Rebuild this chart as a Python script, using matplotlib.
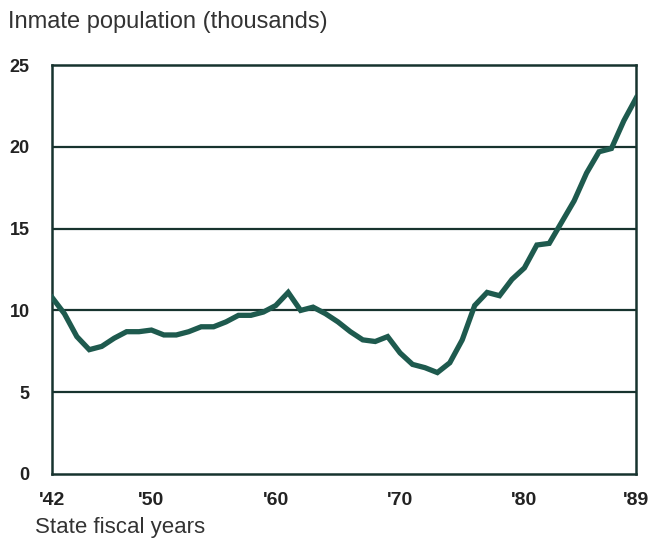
import matplotlib.pyplot as plt

# Inmate population by state fiscal year (thousands)
years = list(range(1942, 1990))
population = [10.8, 9.8, 8.4, 7.6, 7.8, 8.3, 8.7, 8.7, 8.8, 8.5,
              8.5, 8.7, 9.0, 9.0, 9.3, 9.7, 9.7, 9.9, 10.3, 11.1,
              10.0, 10.2, 9.8, 9.3, 8.7, 8.2, 8.1, 8.4, 7.4, 6.7,
              6.5, 6.2, 6.8, 8.2, 10.3, 11.1, 10.9, 11.9, 12.6, 14.0,
              14.1, 15.4, 16.7, 18.4, 19.7, 19.9, 21.6, 23.0]

x_ticks = [1942, 1950, 1960, 1970, 1980, 1989]
x_labels = ["'42", "'50", "'60", "'70", "'80", "'89"]
y_ticks = [0, 5, 10, 15, 20, 25]

plt.rcParams['font.family'] = ['Liberation Sans', 'DejaVu Sans']

line_color = '#1e5a4e'
frame_color = '#17332e'

fig = plt.figure(figsize=(6.58, 5.38), dpi=100)
ax = fig.add_axes([0.079, 0.119, 0.888, 0.760])

ax.plot(years, population, color=line_color, linewidth=3.8,
        solid_joinstyle='miter', zorder=3)

for y in y_ticks[1:-1]:
    ax.axhline(y, color=frame_color, linewidth=1.6, zorder=2)

ax.set_xlim(1942, 1989)
ax.set_ylim(0, 25)
ax.set_xticks(x_ticks)
ax.set_xticklabels(x_labels, fontsize=14, fontweight='bold', color='#222222')
ax.set_yticks(y_ticks)
ax.set_yticklabels([str(v) for v in y_ticks], fontsize=13,
                   fontweight='bold', color='#222222')
ax.tick_params(axis='both', length=0)
ax.tick_params(axis='y', pad=16)
ax.tick_params(axis='x', pad=13)

for side in ['left', 'right', 'top', 'bottom']:
    ax.spines[side].set_color(frame_color)
    ax.spines[side].set_linewidth(1.8)

fig.text(8 / 658, 1 - 22 / 538, 'Inmate population (thousands)',
         fontsize=17, color='#333333', va='center', ha='left')
fig.text(35 / 658, 1 - 527 / 538, 'State fiscal years',
         fontsize=16, color='#333333', va='center', ha='left')

fig.savefig('out.png', dpi=100)
